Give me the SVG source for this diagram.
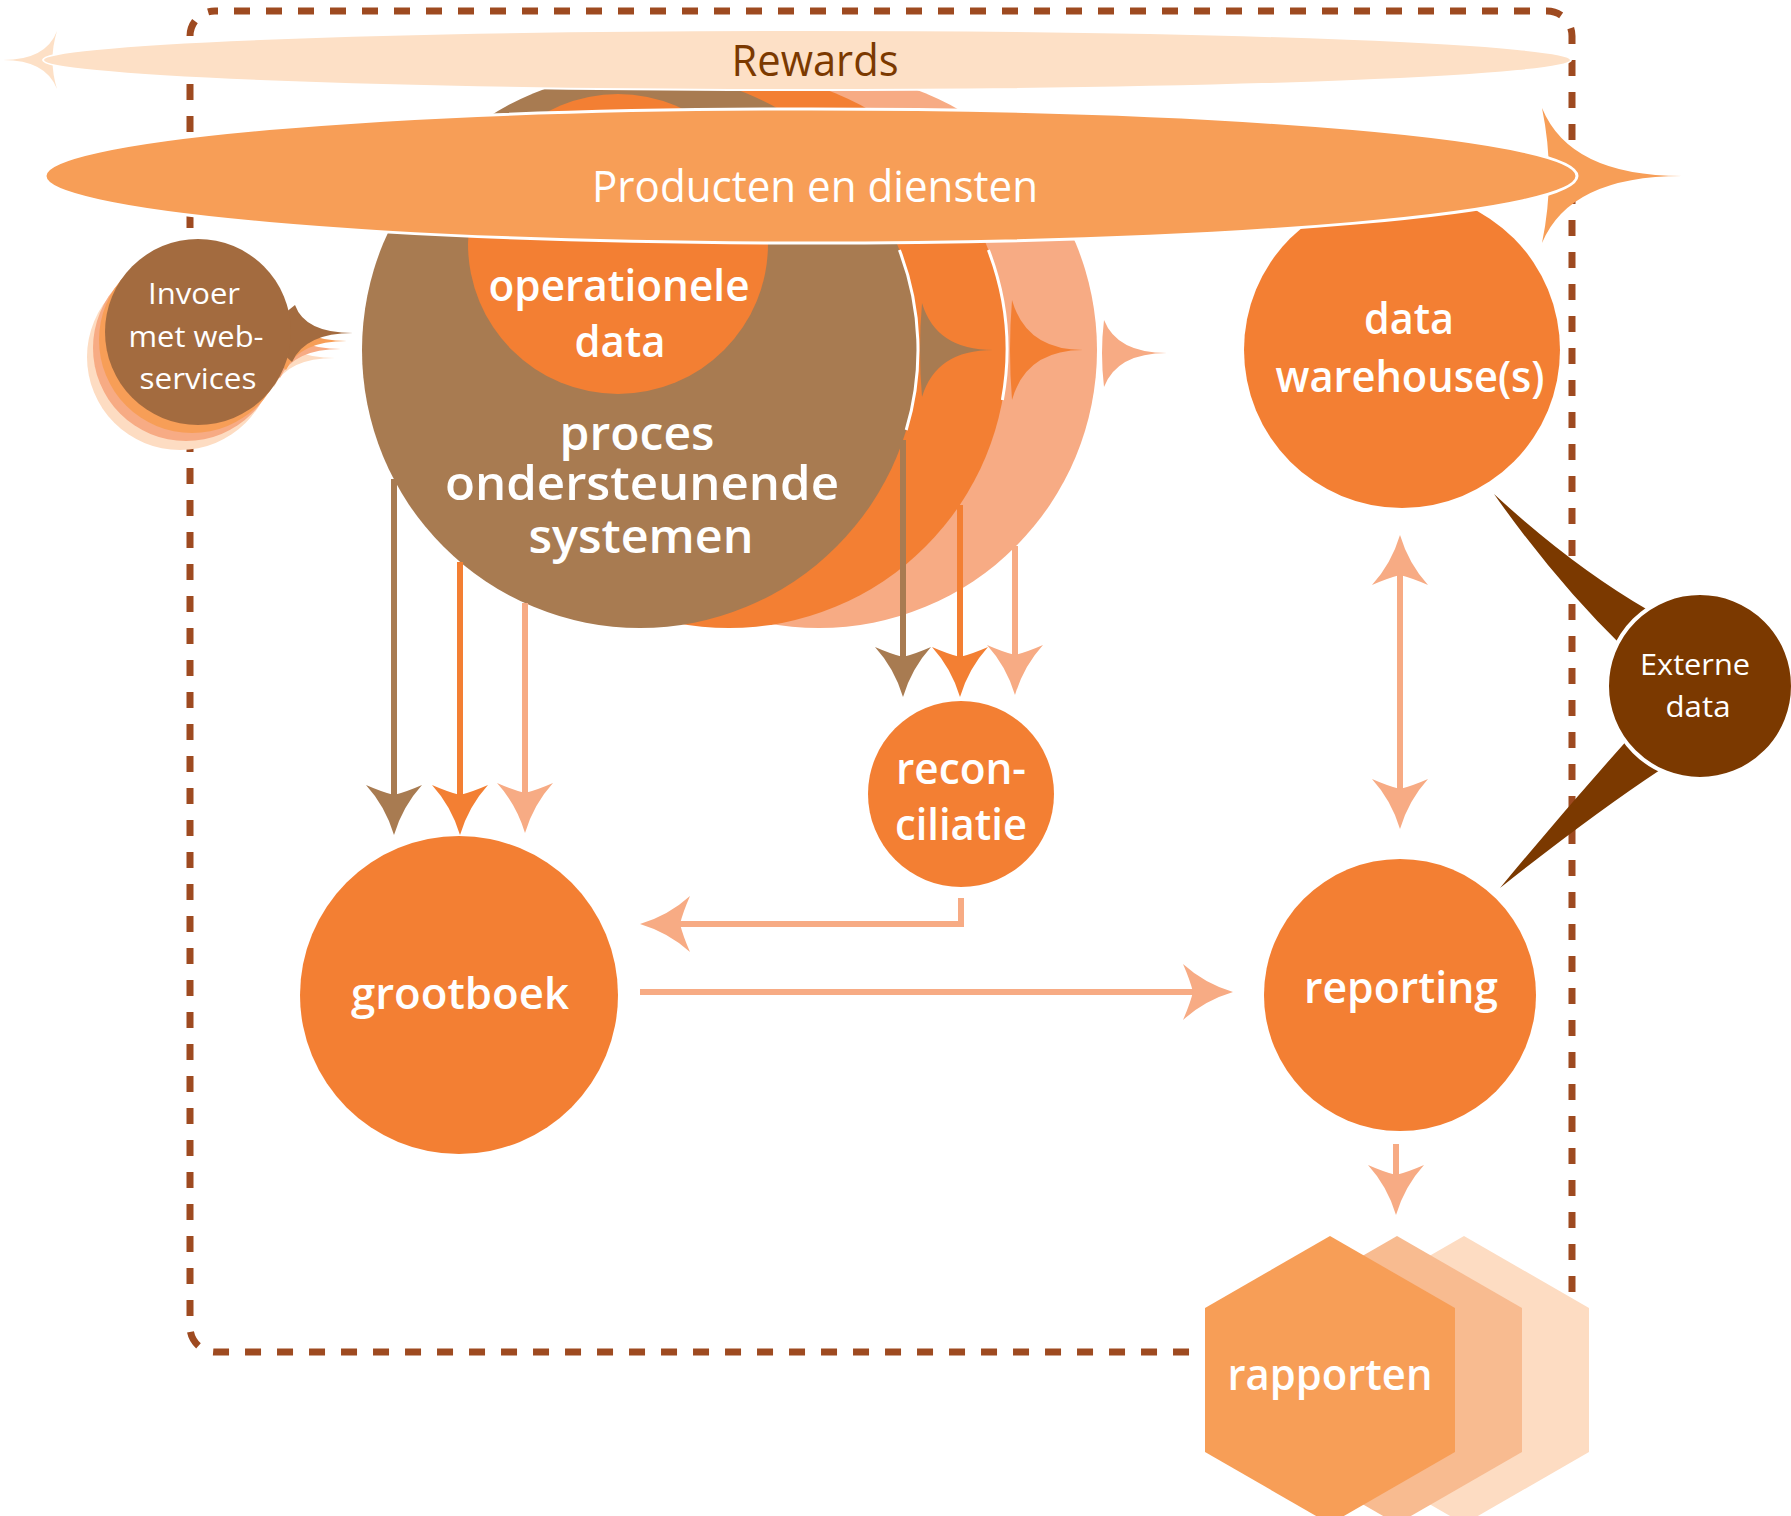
<svg xmlns="http://www.w3.org/2000/svg" xmlns:xlink="http://www.w3.org/1999/xlink" width="1791" height="1516" viewBox="0 0 1791 1516">
<style>
.lbl{font-family:"Open Sans","Noto Sans","DejaVu Sans",sans-serif;font-weight:600;fill:#ffffff;text-anchor:middle}
.sm{font-family:"Open Sans","Noto Sans","DejaVu Sans",sans-serif;font-weight:400;fill:#ffffff;text-anchor:middle}
.brown{fill:#a87b51}
.orange{fill:#f37f33}
.salmon{fill:#f7ab84}
.ln{fill:none;stroke-width:6}
</style>
<defs>
<path id="ah" d="M0,0 Q-8.6,-28.7 -28,-50 Q-12,-43 0,-40 Q12,-43 28,-50 Q8.6,-28.7 0,0 Z"/>
<g id="inv">
<path d="M295,305 Q305,333 353,333 Q305,333 292,362 L260,333 Z"/>
<circle cx="198" cy="332" r="93"/>
</g>
</defs>
<rect x="190" y="11" width="1382" height="1341" rx="25" ry="25" fill="none" stroke="#9e4a20" stroke-width="7" stroke-dasharray="16 16" stroke-dashoffset="13"/>
<g id="invoer">
<use xlink:href="#inv" transform="translate(-18,25)" fill="#fddcc2"/>
<use xlink:href="#inv" transform="translate(-12,16)" fill="#f7ab84"/>
<use xlink:href="#inv" transform="translate(-6,8)" fill="#f79e57"/>
<use xlink:href="#inv" fill="#a36b3f"/>
<text class="sm" font-size="29" x="194" y="304" textLength="92" lengthAdjust="spacingAndGlyphs">Invoer</text>
<text class="sm" font-size="29" x="196" y="347" textLength="135" lengthAdjust="spacingAndGlyphs">met web-</text>
<text class="sm" font-size="29" x="198" y="389" textLength="117" lengthAdjust="spacingAndGlyphs">services</text>
</g>
<g id="proces">
<circle cx="819" cy="350" r="278" class="salmon"/>
<circle cx="729" cy="350" r="278" class="orange"/>
<circle cx="640" cy="350" r="278" class="brown"/>
<path d="M988.4,250 A278,278 0 0 1 1002.4,400" fill="none" stroke="#fff" stroke-width="3"/>
<path d="M899.4,250 A278,278 0 0 1 906.2,430" fill="none" stroke="#fff" stroke-width="3"/>
<path class="salmon" d="M1104,320 Q1117,353 1167,353 Q1117,353 1104,387 Q1100,353 1104,320 Z"/>
<path class="orange" d="M1012,300 Q1026,350 1083,350 Q1026,350 1012,400 Q1008,350 1012,300 Z"/>
<path class="brown" d="M922,303 Q936,350 993,350 Q936,350 922,397 Q918,350 922,303 Z"/>
<text class="lbl" font-size="47" x="637" y="450" textLength="155" lengthAdjust="spacingAndGlyphs">proces</text>
<text class="lbl" font-size="47" x="642" y="500" textLength="394" lengthAdjust="spacingAndGlyphs">ondersteunende</text>
<text class="lbl" font-size="47" x="641" y="553" textLength="225" lengthAdjust="spacingAndGlyphs">systemen</text>
</g>
<g id="operationele">
<circle cx="618" cy="244" r="150" class="orange"/>
<text class="lbl" font-size="44" x="619" y="301" textLength="261" lengthAdjust="spacingAndGlyphs">operationele</text>
<text class="lbl" font-size="44" x="620" y="357" textLength="91" lengthAdjust="spacingAndGlyphs">data</text>
</g>
<g id="datawarehouse">
<circle cx="1402" cy="350" r="158" class="orange"/>
<text class="lbl" font-size="44" x="1409" y="334" textLength="90" lengthAdjust="spacingAndGlyphs">data</text>
<text class="lbl" font-size="44" x="1410" y="392" textLength="269" lengthAdjust="spacingAndGlyphs">warehouse(s)</text>
</g>
<g id="rewards">
<path fill="#fde0c6" d="M57,31 Q46,60 3,60 Q46,60 57,89 Q48,60 57,31 Z"/>
<ellipse cx="807" cy="60" rx="764" ry="30" fill="#fde0c6" stroke="#fff" stroke-width="2"/>
<text font-family="Open Sans, Noto Sans, sans-serif" font-size="44" fill="#7b3900" text-anchor="middle" x="815" y="76" textLength="167" lengthAdjust="spacingAndGlyphs">Rewards</text>
</g>
<g id="producten">
<path fill="#f79e57" d="M1542,108 Q1570,176 1682,176 Q1570,176 1542,243 Q1556,176 1542,108 Z"/>
<ellipse cx="811" cy="176" rx="766" ry="67" fill="#f79e57" stroke="#fff" stroke-width="3"/>
<text class="sm" font-size="44" x="815" y="202" textLength="446" lengthAdjust="spacingAndGlyphs">Producten en diensten</text>
</g>
<g id="connectors">
<line x1="394" y1="479" x2="394" y2="797" stroke="#a87b51" class="ln"/>
<line x1="460" y1="562" x2="460" y2="797" stroke="#f37f33" class="ln"/>
<line x1="525" y1="603" x2="525" y2="795" stroke="#f7ab84" class="ln"/>
<use xlink:href="#ah" transform="translate(394,835)" class="brown"/>
<use xlink:href="#ah" transform="translate(460,835)" class="orange"/>
<use xlink:href="#ah" transform="translate(525,833)" class="salmon"/>
<line x1="903" y1="440" x2="903" y2="659" stroke="#a87b51" class="ln"/>
<line x1="960" y1="505" x2="960" y2="659" stroke="#f37f33" class="ln"/>
<line x1="1015" y1="546" x2="1015" y2="657" stroke="#f7ab84" class="ln"/>
<use xlink:href="#ah" transform="translate(903,697)" class="brown"/>
<use xlink:href="#ah" transform="translate(960,697)" class="orange"/>
<use xlink:href="#ah" transform="translate(1015,695)" class="salmon"/>
<polyline points="961,898 961,924 678,924" stroke="#f7ab84" class="ln"/>
<use xlink:href="#ah" transform="translate(640,924) rotate(90)" class="salmon"/>
<line x1="640" y1="992" x2="1195" y2="992" stroke="#f7ab84" class="ln"/>
<use xlink:href="#ah" transform="translate(1233,992) rotate(-90)" class="salmon"/>
<line x1="1400" y1="573" x2="1400" y2="791" stroke="#f7ab84" class="ln"/>
<use xlink:href="#ah" transform="translate(1400,535) rotate(180)" class="salmon"/>
<use xlink:href="#ah" transform="translate(1400,829)" class="salmon"/>
<line x1="1396" y1="1144" x2="1396" y2="1177" stroke="#f7ab84" class="ln"/>
<use xlink:href="#ah" transform="translate(1396,1215)" class="salmon"/>
</g>
<g id="reconciliatie">
<circle cx="961" cy="794" r="93" class="orange"/>
<text class="lbl" font-size="44" x="961" y="784" textLength="130" lengthAdjust="spacingAndGlyphs">recon-</text>
<text class="lbl" font-size="44" x="961" y="840" textLength="132" lengthAdjust="spacingAndGlyphs">ciliatie</text>
</g>
<g id="grootboek">
<circle cx="459" cy="995" r="159" class="orange"/>
<text class="lbl" font-size="44" x="460" y="1009" textLength="218" lengthAdjust="spacingAndGlyphs">grootboek</text>
</g>
<g id="reporting">
<circle cx="1400" cy="995" r="136" class="orange"/>
<text class="lbl" font-size="44" x="1401" y="1003" textLength="194" lengthAdjust="spacingAndGlyphs">reporting</text>
</g>
<g id="externe">
<path fill="#7b3900" d="M1494,494 Q1572,566 1648,610 L1622,646 Q1556,582 1494,494 Z"/>
<path fill="#7b3900" d="M1500,888 Q1562,813 1630,737 L1660,770 Q1592,815 1500,888 Z"/>
<circle cx="1700" cy="686" r="93" fill="#7b3900" stroke="#fff" stroke-width="4"/>
<text class="sm" font-size="30" x="1695" y="675" textLength="110" lengthAdjust="spacingAndGlyphs">Externe</text>
<text class="sm" font-size="30" x="1698" y="717" textLength="65" lengthAdjust="spacingAndGlyphs">data</text>
</g>
<g id="rapporten">
<polygon fill="#fddcc2" points="1464,1236 1589,1308 1589,1452 1464,1524 1339,1452 1339,1308"/>
<polygon fill="#f8bb90" points="1397,1236 1522,1308 1522,1452 1397,1524 1272,1452 1272,1308"/>
<polygon fill="#f79e57" points="1330,1236 1455,1308 1455,1452 1330,1524 1205,1452 1205,1308"/>
<text class="lbl" font-size="44" x="1330" y="1390" textLength="205" lengthAdjust="spacingAndGlyphs">rapporten</text>
</g>
</svg>
